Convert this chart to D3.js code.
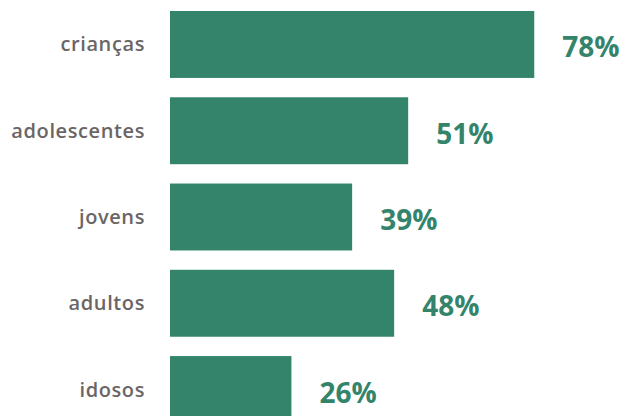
<!DOCTYPE html>
<html>
<head>
<meta charset="utf-8">
<style>
  body { margin: 0; background: #fff; }
  svg { display: block; }
</style>
</head>
<body>
<script src="https://d3js.org/d3.v7.min.js"></script>
<script>
  const w = 619;
  const h = 416;

  // data
  const categories = ['crianças', 'adolescentes', 'jovens', 'adultos', 'idosos'];
  const values = [78, 51, 39, 48, 26];

  const green = '#34846b';
  const gray = '#6a6666';

  const svg = d3.select('body').append('svg')
    .attr('width', w)
    .attr('height', h);

  const x = d3.scaleLinear().domain([0, 100]).range([170, 170 + 467]);
  const y = d3.scaleBand().domain(categories).range([11, 423]).paddingInner(0.224).paddingOuter(0);

  // bars
  svg.selectAll('rect')
    .data(values)
    .enter()
    .append('rect')
    .attr('x', x(0))
    .attr('y', (_, i) => y(categories[i]))
    .attr('width', d => x(d) - x(0))
    .attr('height', y.bandwidth())
    .attr('fill', green);

  // category labels
  svg.selectAll('text.cat')
    .data(categories)
    .enter()
    .append('text')
    .attr('class', 'cat')
    .attr('x', 145)
    .attr('y', d => y(d) + y.bandwidth() / 2 + 7)
    .attr('text-anchor', 'end')
    .attr('font-family', 'Open Sans, sans-serif')
    .attr('font-weight', 600)
    .attr('font-size', 20)
    .attr('letter-spacing', 0.6)
    .attr('fill', gray)
    .text(d => d);

  // value labels
  svg.selectAll('text.val')
    .data(values)
    .enter()
    .append('text')
    .attr('class', 'val')
    .attr('x', d => x(d) + 28)
    .attr('y', (_, i) => y(categories[i]) + y.bandwidth() / 2 + 13)
    .attr('font-family', 'Open Sans, sans-serif')
    .attr('font-weight', 700)
    .attr('font-size', 28)
    .attr('fill', green)
    .text(d => d + '%');
</script>
</body>
</html>
